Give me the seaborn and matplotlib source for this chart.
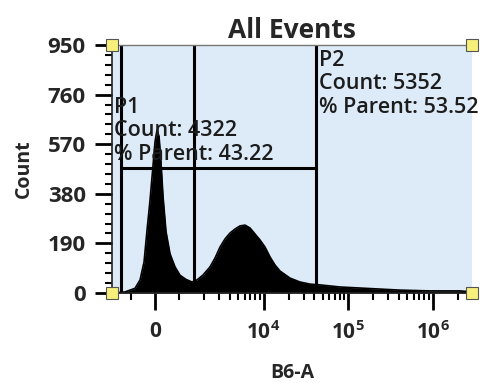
"""
Single-parameter flow histogram (B6-A) with two range gates, P1 and P2.
"""

import matplotlib
matplotlib.use("Agg")
import matplotlib.pyplot as plt
import seaborn as sns
import pandas as pd
from matplotlib.ticker import FixedLocator

# outline of the histogram: B6-A intensity and event count at that intensity
intensity = [-1679, -1178, -833, -625, -458, -333, -208, -100,
             0, 83, 167, 250, 333, 458, 625, 833,
             1028, 1210, 1425, 1633, 1923, 2327, 2667, 3056, 3501, 4014,
             4599, 5270, 6040, 6921, 7932, 9091,
             10418, 11937, 13680, 15680, 20590, 27040, 35500, 46640,
             80400, 138700, 239300, 412400, 933900, 2115000, 2933000]
counts = [0, 4, 18, 50, 119, 241, 356, 471,
          580, 624, 600, 500, 370, 235, 150, 100,
          68, 52, 42, 50, 69, 100, 134, 176, 207, 230,
          245, 257, 260, 249, 226, 203,
          176, 138, 107, 84, 57, 42, 34, 31,
          23, 19, 15, 11, 8, 8, 4]

# gates
gate_edges = [-1313, 1506, 41800]
gate_level = 480
gate_names = ["P1", "P2"]
gate_counts = [4322, 5352]
gate_parent = [43.22, 53.52]

x_ticks = [0, 1e4, 1e5, 1e6]
x_tick_labels = ["0", r"$\mathbf{10^4}$", r"$\mathbf{10^5}$", r"$\mathbf{10^6}$"]
x_minor = [-1000, 1000, 2000, 3000, 4000, 5000, 6000, 7000, 8000, 9000,
           2e4, 3e4, 4e4, 5e4, 6e4, 7e4, 8e4, 9e4,
           2e5, 3e5, 4e5, 5e5, 6e5, 7e5, 8e5, 9e5, 2e6]
y_ticks = [0, 190, 380, 570, 760, 950]

sns.set_style("white")
plt.rcParams["font.family"] = ["Open Sans", "DejaVu Sans"]
plt.rcParams["mathtext.fontset"] = "custom"
plt.rcParams["mathtext.bf"] = "Open Sans:bold"
plt.rcParams["mathtext.rm"] = "Open Sans"

df = pd.DataFrame({"B6-A": intensity, "Count": counts})

fig = plt.figure(figsize=(4.82, 3.83), dpi=100)
ax = fig.add_axes([0.2324, 0.235, 0.7469, 0.6475])
ax.set_facecolor("#ddebf8")

ax.set_xscale("symlog", linthresh=1000, linscale=0.2556)
ax.set_xlim(-1679, 2933000)
ax.set_ylim(0, 950)

# histogram
ax.fill_between(df["B6-A"], df["Count"], color="black", lw=0)
sns.lineplot(data=df, x="B6-A", y="Count", color="black", lw=1.2, ax=ax)

# gates
for xg in gate_edges:
    ax.axvline(xg, color="black", lw=2.2)
ax.plot([gate_edges[0], gate_edges[-1]], [gate_level, gate_level], color="black", lw=2.2)

txt = dict(fontsize=15.5, color="#1c1c1c", va="top", ha="left",
           fontweight="semibold", linespacing=1.16)
ax.text(-1600, 752, f"{gate_names[0]}\nCount: {gate_counts[0]}\n% Parent: {gate_parent[0]}", **txt)
ax.text(45400, 932, f"{gate_names[1]}\nCount: {gate_counts[1]}\n% Parent: {gate_parent[1]}",
        clip_on=False, **txt)

# ticks
ax.xaxis.set_major_locator(FixedLocator(x_ticks))
ax.xaxis.set_minor_locator(FixedLocator(x_minor))
ax.set_xticklabels(x_tick_labels)
ax.set_yticks(y_ticks)
ax.yaxis.set_minor_locator(FixedLocator(list(range(0, 951, 38))))
ax.tick_params(which="both", bottom=True, left=True, top=False, right=False)
ax.tick_params(which="major", direction="out", length=12, width=2, color="black",
               labelsize=15, pad=8)
ax.tick_params(which="minor", direction="out", length=5, width=1.5, color="black")
ax.tick_params(axis="y", which="major", pad=7, labelsize=16)
for lab in ax.get_xticklabels() + ax.get_yticklabels():
    lab.set_fontweight("bold")

for side in ["left", "bottom"]:
    ax.spines[side].set_visible(True)
    ax.spines[side].set_color("#222222")
    ax.spines[side].set_linewidth(1.2)
ax.spines["top"].set_color("#777777")
ax.spines["top"].set_linewidth(1)
ax.spines["right"].set_visible(False)

ax.set_title("All Events", fontsize=19, fontweight="bold", pad=5)
ax.set_xlabel("B6-A", fontsize=14, fontweight="bold", labelpad=14)
ax.set_ylabel("Count", fontsize=14, fontweight="bold", labelpad=10)

# corner handles
ax.plot([0, 1, 0, 1], [0, 0, 1, 1], ls="none", marker="s", ms=8.5, mfc="#f7ef7c",
        mec="#555555", mew=0.8, transform=ax.transAxes, clip_on=False, zorder=5)

fig.savefig("out.png", dpi=100)
